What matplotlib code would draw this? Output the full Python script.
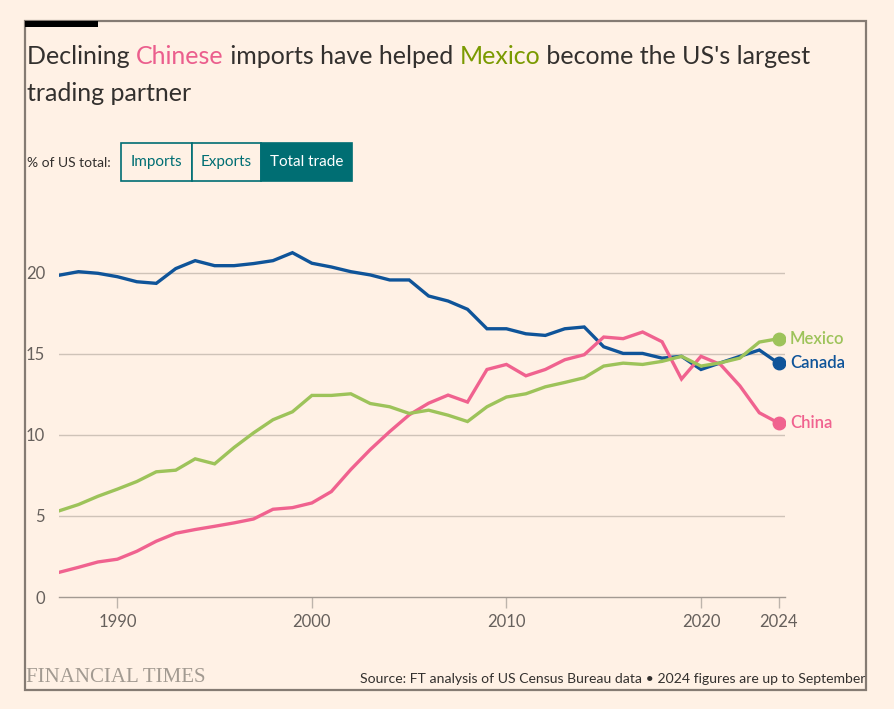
import matplotlib
matplotlib.use("Agg")
import matplotlib.pyplot as plt
import matplotlib.patches as patches

# --- DATA (share of US total trade, %) ---
years = list(range(1987, 2025))
canada = [19.84, 20.06, 19.96, 19.75, 19.44, 19.34, 20.25, 20.74, 20.43, 20.43,
          20.56, 20.74, 21.23, 20.58, 20.35, 20.06, 19.86, 19.55, 19.55, 18.56,
          18.25, 17.74, 16.54, 16.54, 16.23, 16.13, 16.54, 16.65, 15.43, 15.02,
          15.02, 14.73, 14.84, 14.03, 14.44, 14.84, 15.23, 14.40]
china = [1.52, 1.83, 2.16, 2.33, 2.82, 3.44, 3.93, 4.16, 4.36, 4.57,
         4.81, 5.41, 5.51, 5.80, 6.50, 7.86, 9.09, 10.20, 11.23, 11.95,
         12.45, 12.02, 14.03, 14.34, 13.64, 14.03, 14.63, 14.94, 16.03, 15.93,
         16.34, 15.74, 13.44, 14.84, 14.34, 13.02, 11.36, 10.72]
mexico = [5.31, 5.70, 6.21, 6.65, 7.12, 7.72, 7.82, 8.52, 8.21, 9.22,
          10.12, 10.93, 11.42, 12.43, 12.43, 12.53, 11.93, 11.73, 11.32, 11.52,
          11.21, 10.82, 11.73, 12.33, 12.53, 12.96, 13.23, 13.52, 14.24, 14.42,
          14.34, 14.53, 14.84, 14.24, 14.44, 14.73, 15.72, 15.93]
x_ticks = [1990, 2000, 2010, 2020, 2024]
y_ticks = [0, 5, 10, 15, 20]
buttons = ["Imports", "Exports", "Total trade"]

BG = "#FFF1E5"
BLUE = "#0F5499"
PINK = "#F0628F"
GREEN = "#9DC35A"
TEAL = "#006E73"
TEXT = "#33302E"
MUTED = "#66605C"

plt.rcParams['font.family'] = ['Lato', 'DejaVu Sans']

W, H = 894, 709
fig = plt.figure(figsize=(W / 100, H / 100), dpi=100, facecolor=BG)


def fx(px):
    return px / W


def fy(py):
    return 1 - py / H


# --- FRAME ---
fig.add_artist(patches.Rectangle((fx(25), fy(690)), fx(866) - fx(25), fy(21) - fy(690),
                                 transform=fig.transFigure, fill=False,
                                 edgecolor="#857B73", linewidth=1.6))
fig.add_artist(patches.Rectangle((fx(25), fy(26.5)), fx(98) - fx(25), fy(21) - fy(26.5),
                                 transform=fig.transFigure, facecolor="black",
                                 edgecolor="none"))

# --- TITLE (multi coloured) ---
renderer = fig.canvas.get_renderer()


def rich_line(pieces, x, y, size):
    cur = x
    for txt, col in pieces:
        t = fig.text(fx(cur), fy(y), txt, color=col, fontsize=size, va="baseline", ha="left")
        bb = t.get_window_extent(renderer=renderer)
        cur += bb.width


title_size = 18
rich_line([("Declining ", TEXT), ("Chinese", "#EB5E8D"), (" imports have helped ", TEXT),
           ("Mexico", "#7A9A01"), (" become the US's largest", TEXT)], 27, 64, title_size)
rich_line([("trading partner", TEXT)], 27, 101, title_size)

# --- BUTTONS ---
fig.text(fx(27), fy(163), "% of US total:", color=TEXT, fontsize=10, va="center", ha="left")
edges = [121, 191.5, 261, 352]
for i, lab in enumerate(buttons):
    x0, x1 = edges[i], edges[i + 1]
    active = i == len(buttons) - 1
    fig.add_artist(patches.Rectangle((fx(x0), fy(181)), fx(x1) - fx(x0), fy(143) - fy(181),
                                     transform=fig.transFigure,
                                     facecolor=TEAL if active else BG,
                                     edgecolor=TEAL, linewidth=1.2))
    fig.text(fx((x0 + x1) / 2), fy(162), lab, color="white" if active else TEAL,
             fontsize=11, va="center", ha="center")

# --- CHART ---
ax = fig.add_axes([fx(59), fy(597), fx(785) - fx(59), fy(224) - fy(597)])
ax.set_facecolor(BG)
ax.set_xlim(1987, 2024.32)
ax.set_ylim(0, 23)

for s in ["top", "right", "left"]:
    ax.spines[s].set_visible(False)
ax.spines["bottom"].set_color("#A39A92")
ax.spines["bottom"].set_linewidth(1.0)
ax.set_yticks(y_ticks)
ax.set_xticks(x_ticks)
ax.tick_params(axis="y", length=0, pad=10, labelsize=12, labelcolor=MUTED)
ax.tick_params(axis="x", length=8, width=1, color="#BDB4AC", pad=4,
               labelsize=12, labelcolor=MUTED)
for v in y_ticks[1:]:
    ax.axhline(v, color="#CFC3B8", linewidth=1, zorder=0)

series = [("Canada", canada, BLUE), ("China", china, PINK), ("Mexico", mexico, GREEN)]
for name, vals, col in series:
    ax.plot(years, vals, color=col, linewidth=2.4, solid_joinstyle="miter", zorder=3)
    ax.plot(years[-1], vals[-1], "o", color=col, markersize=9, zorder=4)
    ax.annotate(name, (years[-1], vals[-1]), xytext=(8, 0), textcoords="offset points",
                color=col, fontsize=12, fontweight="semibold", va="center", ha="left",
                annotation_clip=False)

# --- FOOTER ---
fig.text(fx(26), fy(678), "FINANCIAL TIMES", family="Liberation Serif", color="#A29A91",
         fontsize=15, va="center", ha="left")
fig.text(fx(865), fy(679), "Source: FT analysis of US Census Bureau data \u2022 2024 figures are up to September",
         color=TEXT, fontsize=10.1, va="center", ha="right")

fig.savefig("out.png", dpi=100, facecolor=BG)
